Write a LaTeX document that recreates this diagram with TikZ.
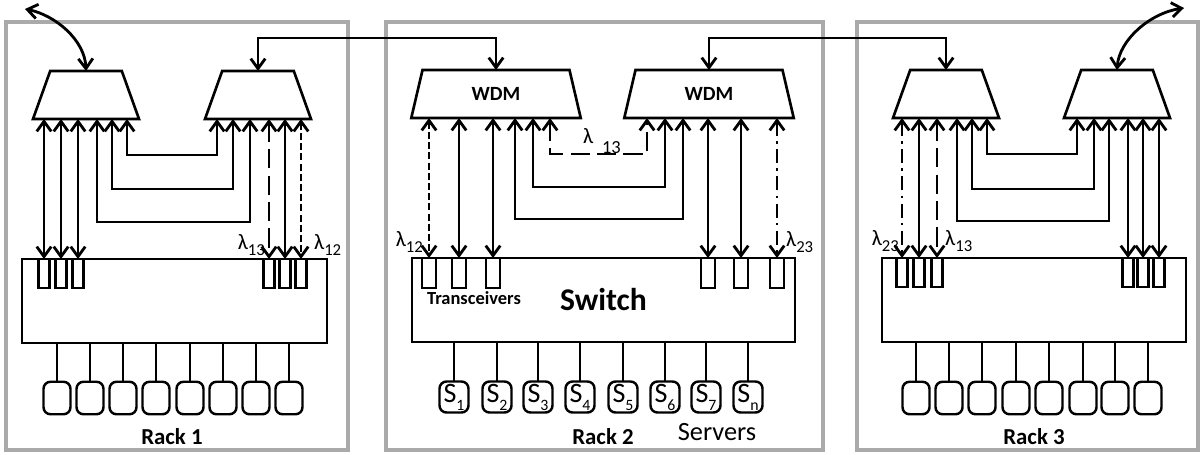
\documentclass[tikz,border=0pt]{standalone}
\usepackage{fontspec}
\setmainfont{Carlito}
\usetikzlibrary{positioning,arrows.meta,shapes.geometric,calc}
\definecolor{rackgray}{RGB}{170,170,170}
\newcommand{\lamsub}[1]{λ\raisebox{-0.5ex}{\fontsize{9.5}{9.5}\selectfont #1}}
\newcommand{\srvlabel}[1]{S\raisebox{-0.6ex}{\fontsize{9}{9}\selectfont #1}}
\tikzset{
  >={Straight Barb[length=2mm,width=2.9mm]},
  rack/.style={draw=rackgray, line width=2pt},
  wdm/.style={trapezium, trapezium angle=76.5, trapezium stretches=true, draw, line width=1.5pt,
    inner sep=1pt, outer sep=0pt, minimum height=0.96cm, minimum width=#1,
    font=\bfseries\fontsize{11.5}{12}\selectfont},
  wdm/.default=2.12cm,
  switchbox/.style={draw, line width=1.5pt, outer sep=0pt, minimum height=1.68cm, minimum width=#1},
  trx/.style={draw, line width=1.4pt, outer sep=0pt, inner sep=0pt, anchor=north,
    minimum width=#1, minimum height=0.58cm},
  trx/.default=0.22cm,
  server/.style={draw, line width=1.4pt, rounded corners=4pt, outer sep=0pt, inner sep=0pt,
    minimum width=#1, minimum height=0.65cm, font=\fontsize{16}{16}\selectfont},
  server/.default=0.54cm,
  fibre/.style={<->, line width=1.6pt},
  lien/.style={line width=1.4pt},
  lam12/.style={dash pattern=on 4pt off 1.8pt},
  lam13/.style={dash pattern=on 11pt off 4pt},
  lam23/.style={dash pattern=on 8pt off 3pt on 1.5pt off 3pt},
  lamlabel/.style={font=\fontsize{12.5}{12.5}\selectfont, inner sep=1pt},
  racklabel/.style={font=\bfseries\fontsize{13}{13}\selectfont},
}

\begin{document}
\begin{tikzpicture}[x=0.02cm, y=-0.02cm]
  \useasboundingbox (0,0) rectangle (1203,454);
  \draw[rack] (6,22) rectangle (348,450);
  \draw[rack] (386,22) rectangle (823,450);
  \draw[rack] (857,22) rectangle (1198,450);

  \node[wdm] (a1) at (86,95) {};
  \node[wdm] (b1) at (258,95) {};
  \node[wdm=3.4cm] (a2) at (496,94) {WDM};
  \node[wdm=3.4cm] (b2) at (709,94) {WDM};
  \node[wdm] (a3) at (946,94) {};
  \node[wdm] (b3) at (1117,94) {};

  \node[switchbox=6.1cm] (sw1) at (174.5,301) {};
  \node[switchbox=7.66cm, font=\bfseries\fontsize{18}{18}\selectfont] (sw2) at (603.5,300) {Switch};
  \node[switchbox=6.08cm] (sw3) at (1034,300) {};

  \foreach \x [count=\i] in {44,61,78,269,285,301}
    \node[trx] (t1\i) at (\x,0 |- sw1.north) {};
  \foreach \x [count=\i] in {429,459,493,708,741,777}
    \node[trx=0.28cm, minimum height=0.6cm] (t2\i) at (\x,0 |- sw2.north) {};
  \foreach \x [count=\i] in {902,919,937,1128,1143,1159}
    \node[trx] (t3\i) at (\x,0 |- sw3.north) {};

  % rack 1
  \foreach \i in {1,2,3}
    \draw[fibre] (t1\i.north |- a1.south) -- (t1\i.north);
  \draw[fibre, lam13] (t14.north |- b1.south) -- (t14.north);
  \draw[fibre] (t15.north |- b1.south) -- (t15.north);
  \draw[fibre, lam12] (t16.north |- b1.south) -- (t16.north);
  \draw[fibre] (97,0 |- a1.south) |- (250,222) -- (250,0 |- b1.south);
  \draw[fibre] (112,0 |- a1.south) |- (233,189) -- (233,0 |- b1.south);
  \draw[fibre] (127,0 |- a1.south) |- (217,155) -- (217,0 |- b1.south);

  % rack 2
  \draw[fibre, lam12] (t21.north |- a2.south) -- (t21.north);
  \draw[fibre] (t22.north |- a2.south) -- (t22.north);
  \draw[fibre] (t23.north |- a2.south) -- (t23.north);
  \draw[fibre] (t24.north |- b2.south) -- (t24.north);
  \draw[fibre] (t25.north |- b2.south) -- (t25.north);
  \draw[fibre, lam23] (t26.north |- b2.south) -- (t26.north);
  \draw[fibre] (515,0 |- a2.south) |- (683,219) -- (683,0 |- b2.south);
  \draw[fibre] (533,0 |- a2.south) |- (665,187) -- (665,0 |- b2.south);
  \draw[fibre, lam13] (550,0 |- a2.south) |- (647,154) -- (647,0 |- b2.south);

  % rack 3
  \draw[fibre, lam23] (t31.north |- a3.south) -- (t31.north);
  \draw[fibre] (t32.north |- a3.south) -- (t32.north);
  \draw[fibre, lam13] (t33.north |- a3.south) -- (t33.north);
  \foreach \i in {4,5,6}
    \draw[fibre] (t3\i.north |- b3.south) -- (t3\i.north);
  \draw[fibre] (957,0 |- a3.south) |- (1109,221) -- (1109,0 |- b3.south);
  \draw[fibre] (972,0 |- a3.south) |- (1094,189) -- (1094,0 |- b3.south);
  \draw[fibre] (987,0 |- a3.south) |- (1077,154) -- (1077,0 |- b3.south);

  % inter-rack links
  \coordinate (top) at (0,38);
  \coordinate (ext1) at (25,9);
  \coordinate (ext3) at (1184,8);
  \draw[fibre] (b1.north) -- (b1.north |- top) -| (a2.north);
  \draw[fibre] (b2.north) -- (b2.north |- top) -| (a3.north);
  \draw[fibre] (a1.north) .. controls (85,40) and (55,15) .. (ext1);
  \draw[fibre] (b3.north) .. controls (1119,40) and (1150,13) .. (ext3);

  % servers
  \foreach \x [count=\i] in {57,90,123,156,190,223,256,289} {
    \node[server] (s1\i) at (\x,398) {};
    \draw[lien] (s1\i.north) -- (s1\i.north |- sw1.south);
  }
  \foreach \x/\n [count=\i] in {454/1,497/2,538/3,580/4,623/5,665/6,706/7,748/n} {
    \node[server=0.58cm, minimum height=0.62cm] (s2\i) at (\x,397) {\srvlabel{\n}};
    \draw[lien] (s2\i.north) -- (s2\i.north |- sw2.south);
  }
  \foreach \x [count=\i] in {916,949,982,1016,1049,1083,1115,1148} {
    \node[server] (s3\i) at (\x,398) {};
    \draw[lien] (s3\i.north) -- (s3\i.north |- sw3.south);
  }

  \node[lamlabel, anchor=east] (l13a) at (267,245) {\lamsub{13}};
  \node[lamlabel, anchor=west] (l12a) at (312,245) {\lamsub{12}};
  \node[lamlabel, anchor=east] (l12b) at (425,242) {\lamsub{12}};
  \node[lamlabel, anchor=west] (l23b) at (784,242) {\lamsub{23}};
  \node[lamlabel, anchor=east] (l23c) at (901,241) {\lamsub{23}};
  \node[lamlabel, anchor=west] (l13c) at (943,241) {\lamsub{13}};
  \node[lamlabel] (l13b) at (602,141) {λ\hspace{5pt}\raisebox{-0.9ex}{\fontsize{10.5}{10.5}\selectfont 13}};

  \node[font=\bfseries\fontsize{10.5}{11}\selectfont] (trxlabel) at (474,298) {Transceivers};
  \node[font=\fontsize{15}{15}\selectfont] (srvlabel) at (717,432) {Servers};
  \node[racklabel] (r1) at (172,437) {Rack 1};
  \node[racklabel] (r2) at (603,437) {Rack 2};
  \node[racklabel] (r3) at (1034,437) {Rack 3};
\end{tikzpicture}
\end{document}
